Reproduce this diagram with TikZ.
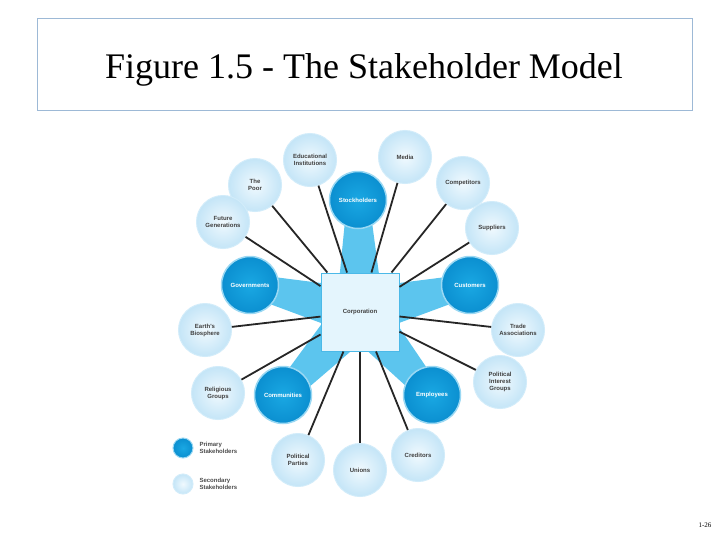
\documentclass[tikz,border=0pt]{standalone}
\usepackage{fontspec}
\setmainfont{Liberation Serif}
\newfontfamily\lab{Liberation Sans}
\usetikzlibrary{calc}
\definecolor{secin}{HTML}{F0F9FE}
\definecolor{secout}{HTML}{C4E5F7}
\definecolor{secrim}{HTML}{D2ECFA}
\definecolor{priin}{HTML}{1AA8E3}
\definecolor{priout}{HTML}{0B8FD0}
\definecolor{pririm}{HTML}{9AD8F3}
\definecolor{bandc}{HTML}{5CC5EE}
\definecolor{sqfill}{HTML}{E4F5FD}
\definecolor{sqdraw}{HTML}{4BB9E8}
\definecolor{boxdraw}{HTML}{9DB9D6}
\tikzset{
  sec/.style={circle,minimum size=53pt,inner sep=0pt,inner color=secin,outer color=secout,draw=secrim,line width=1pt,align=center,font=\lab\bfseries\fontsize{6}{7}\selectfont,text=black!75},
  pri/.style={circle,minimum size=57pt,inner sep=0pt,inner color=priin,outer color=priout,draw=pririm,line width=1.5pt,align=center,font=\lab\bfseries\fontsize{6}{7}\selectfont,text=white},
  conn/.style={line width=1.8pt,black!85},
}
\newcommand{\band}[1]{\fill[bandc] ($(#1)!11pt!90:(corp)$) -- ($(corp)!24pt!-90:(#1)$) -- ($(corp)!24pt!90:(#1)$) -- ($(#1)!11pt!-90:(corp)$) -- cycle;}
\begin{document}
\begin{tikzpicture}[x=1pt,y=-1pt]
\useasboundingbox (0,0) rectangle (728,546);
\fill[white] (0,0) rectangle (728,546);
\node[draw=boxdraw,line width=0.8pt,minimum width=655pt,minimum height=92pt] (title) at (364.5,64) {};
\node[font=\fontsize{36}{40}\selectfont] (tt) at (364,70) {Figure 1.5 - The Stakeholder Model};
\coordinate (corp) at (360,312);
% circles
\node[sec] (edu) at (310,160) {Educational\\Institutions};
\node[sec] (media) at (405,157) {Media};
\node[sec] (poor) at (255,185) {The\\Poor};
\node[sec] (comp) at (463,183) {Competitors};
\node[sec] (fut) at (223,222) {Future\\Generations};
\node[sec] (sup) at (492,228) {Suppliers};
\node[sec] (earth) at (205,330) {Earth's\\Biosphere};
\node[sec] (trade) at (518,330) {Trade\\Associations};
\node[sec] (rel) at (218,393) {Religious\\Groups};
\node[sec] (pig) at (500,382) {Political\\Interest\\Groups};
\node[sec] (pp) at (298,460) {Political\\Parties};
\node[sec] (uni) at (360,470) {Unions};
\node[sec] (cred) at (418,455) {Creditors};
\coordinate (stk) at (358,200);
\coordinate (gov) at (250,285);
\coordinate (cus) at (470,285);
\coordinate (comm) at (283,395);
\coordinate (emp) at (432,395);
\foreach \p in {stk,gov,cus,comm,emp} {\band{\p}}
\node[draw=sqdraw,fill=sqfill,line width=1pt,minimum size=78pt,font=\lab\bfseries\fontsize{6}{7}\selectfont,text=black!75] (corpn) at (corp) {Corporation};
\foreach \s in {edu,media,poor,comp,fut,sup,earth,trade,rel,pig,pp,uni,cred} {\draw[conn] (corpn) -- (\s);}
\node[pri] (stkn) at (stk) {Stockholders};
\node[pri] (govn) at (gov) {Governments};
\node[pri] (cusn) at (cus) {Customers};
\node[pri] (commn) at (comm) {Communities};
\node[pri] (empn) at (emp) {Employees};
% legend
\node[pri,minimum size=20pt,line width=1pt] (lp) at (183,448) {};
\node[sec,minimum size=20pt] (ls) at (183,484) {};
\node[anchor=west,align=left,font=\lab\bfseries\fontsize{6}{7}\selectfont,text=black!70] (lpt) at (196,448) {Primary\\Stakeholders};
\node[anchor=west,align=left,font=\lab\bfseries\fontsize{6}{7}\selectfont,text=black!70] (lst) at (196,484) {Secondary\\Stakeholders};
\node[font=\fontsize{7}{8}\selectfont] (pg) at (705,525) {1-26};
\end{tikzpicture}
\end{document}
